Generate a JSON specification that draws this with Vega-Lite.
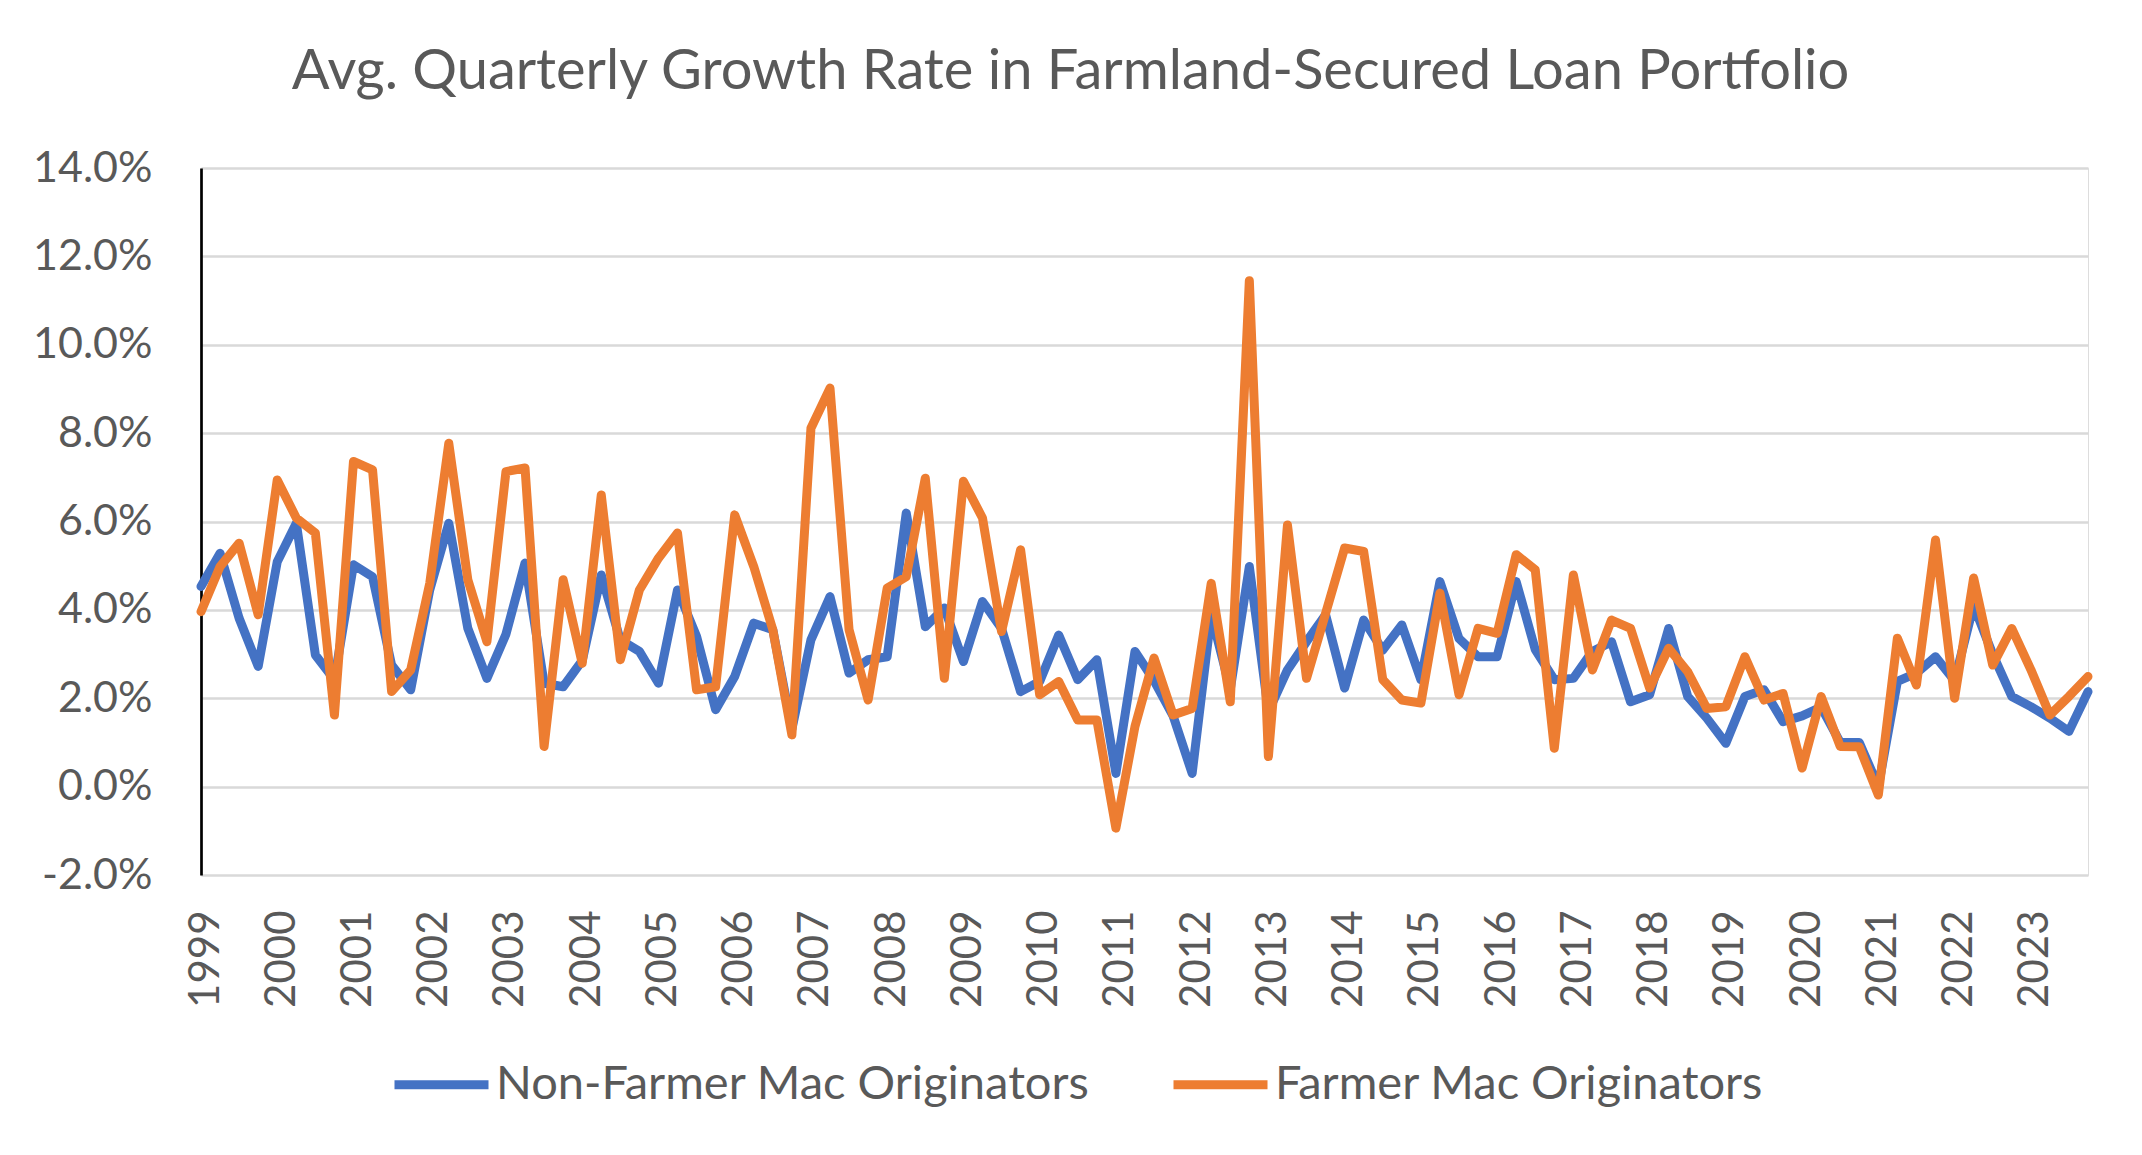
{
  "$schema": "https://vega.github.io/schema/vega-lite/v6.json",
  "width": 1887,
  "height": 707,
  "autosize": "none",
  "padding": {"left": 201, "top": 168, "right": 54, "bottom": 280},
  "background": "white",
  "title": {
    "text": "Avg. Quarterly Growth Rate in Farmland-Secured Loan Portfolio",
    "font": "Lato",
    "fontSize": 56,
    "fontWeight": "normal",
    "color": "#595959",
    "anchor": "middle",
    "dx": -74,
    "offset": 46
  },
  "data": {
    "values": [
      {"t": 1999.0, "nonfm": 4.53, "fm": 3.96},
      {"t": 1999.25, "nonfm": 5.28, "fm": 4.98},
      {"t": 1999.5, "nonfm": 3.81, "fm": 5.51},
      {"t": 1999.75, "nonfm": 2.72, "fm": 3.89},
      {"t": 2000.0, "nonfm": 5.09, "fm": 6.94},
      {"t": 2000.25, "nonfm": 5.96, "fm": 6.08},
      {"t": 2000.5, "nonfm": 2.98, "fm": 5.74},
      {"t": 2000.75, "nonfm": 2.42, "fm": 1.62},
      {"t": 2001.0, "nonfm": 5.02, "fm": 7.36},
      {"t": 2001.25, "nonfm": 4.75, "fm": 7.17},
      {"t": 2001.5, "nonfm": 2.75, "fm": 2.15},
      {"t": 2001.75, "nonfm": 2.19, "fm": 2.64},
      {"t": 2002.0, "nonfm": 4.45, "fm": 4.6},
      {"t": 2002.25, "nonfm": 5.96, "fm": 7.77},
      {"t": 2002.5, "nonfm": 3.58, "fm": 4.68},
      {"t": 2002.75, "nonfm": 2.45, "fm": 3.28},
      {"t": 2003.0, "nonfm": 3.45, "fm": 7.13},
      {"t": 2003.25, "nonfm": 5.06, "fm": 7.21},
      {"t": 2003.5, "nonfm": 2.34, "fm": 0.91},
      {"t": 2003.75, "nonfm": 2.26, "fm": 4.68},
      {"t": 2004.0, "nonfm": 2.85, "fm": 2.79},
      {"t": 2004.25, "nonfm": 4.79, "fm": 6.6},
      {"t": 2004.5, "nonfm": 3.32, "fm": 2.87},
      {"t": 2004.75, "nonfm": 3.06, "fm": 4.45},
      {"t": 2005.0, "nonfm": 2.34, "fm": 5.17},
      {"t": 2005.25, "nonfm": 4.45, "fm": 5.74},
      {"t": 2005.5, "nonfm": 3.4, "fm": 2.19},
      {"t": 2005.75, "nonfm": 1.74, "fm": 2.26},
      {"t": 2006.0, "nonfm": 2.49, "fm": 6.15},
      {"t": 2006.25, "nonfm": 3.7, "fm": 4.98},
      {"t": 2006.5, "nonfm": 3.55, "fm": 3.55},
      {"t": 2006.75, "nonfm": 1.3, "fm": 1.17},
      {"t": 2007.0, "nonfm": 3.32, "fm": 8.11},
      {"t": 2007.25, "nonfm": 4.3, "fm": 9.02},
      {"t": 2007.5, "nonfm": 2.57, "fm": 3.55},
      {"t": 2007.75, "nonfm": 2.87, "fm": 1.96},
      {"t": 2008.0, "nonfm": 2.94, "fm": 4.49},
      {"t": 2008.25, "nonfm": 6.19, "fm": 4.75},
      {"t": 2008.5, "nonfm": 3.62, "fm": 6.98},
      {"t": 2008.75, "nonfm": 4.04, "fm": 2.45},
      {"t": 2009.0, "nonfm": 2.83, "fm": 6.91},
      {"t": 2009.25, "nonfm": 4.19, "fm": 6.08},
      {"t": 2009.5, "nonfm": 3.58, "fm": 3.51},
      {"t": 2009.75, "nonfm": 2.15, "fm": 5.36},
      {"t": 2010.0, "nonfm": 2.38, "fm": 2.08},
      {"t": 2010.25, "nonfm": 3.43, "fm": 2.38},
      {"t": 2010.5, "nonfm": 2.42, "fm": 1.51},
      {"t": 2010.75, "nonfm": 2.87, "fm": 1.51},
      {"t": 2011.0, "nonfm": 0.3, "fm": -0.94},
      {"t": 2011.25, "nonfm": 3.06, "fm": 1.36},
      {"t": 2011.5, "nonfm": 2.4, "fm": 2.91},
      {"t": 2011.75, "nonfm": 1.6, "fm": 1.62},
      {"t": 2012.0, "nonfm": 0.3, "fm": 1.77},
      {"t": 2012.25, "nonfm": 3.9, "fm": 4.6},
      {"t": 2012.5, "nonfm": 2.2, "fm": 1.92},
      {"t": 2012.75, "nonfm": 4.98, "fm": 11.45},
      {"t": 2013.0, "nonfm": 1.7, "fm": 0.68},
      {"t": 2013.25, "nonfm": 2.64, "fm": 5.92},
      {"t": 2013.5, "nonfm": 3.28, "fm": 2.45},
      {"t": 2013.75, "nonfm": 3.89, "fm": 3.92},
      {"t": 2014.0, "nonfm": 2.23, "fm": 5.4},
      {"t": 2014.25, "nonfm": 3.77, "fm": 5.32},
      {"t": 2014.5, "nonfm": 3.09, "fm": 2.42},
      {"t": 2014.75, "nonfm": 3.66, "fm": 1.96},
      {"t": 2015.0, "nonfm": 2.42, "fm": 1.89},
      {"t": 2015.25, "nonfm": 4.64, "fm": 4.38},
      {"t": 2015.5, "nonfm": 3.35, "fm": 2.08},
      {"t": 2015.75, "nonfm": 2.94, "fm": 3.58},
      {"t": 2016.0, "nonfm": 2.94, "fm": 3.47},
      {"t": 2016.25, "nonfm": 4.64, "fm": 5.25},
      {"t": 2016.5, "nonfm": 3.1, "fm": 4.91},
      {"t": 2016.75, "nonfm": 2.42, "fm": 0.87},
      {"t": 2017.0, "nonfm": 2.45, "fm": 4.79},
      {"t": 2017.25, "nonfm": 3.06, "fm": 2.64},
      {"t": 2017.5, "nonfm": 3.28, "fm": 3.77},
      {"t": 2017.75, "nonfm": 1.92, "fm": 3.58},
      {"t": 2018.0, "nonfm": 2.08, "fm": 2.23},
      {"t": 2018.25, "nonfm": 3.58, "fm": 3.13},
      {"t": 2018.5, "nonfm": 2.04, "fm": 2.6},
      {"t": 2018.75, "nonfm": 1.55, "fm": 1.77},
      {"t": 2019.0, "nonfm": 0.98, "fm": 1.81},
      {"t": 2019.25, "nonfm": 2.04, "fm": 2.94},
      {"t": 2019.5, "nonfm": 2.19, "fm": 1.96},
      {"t": 2019.75, "nonfm": 1.47, "fm": 2.11},
      {"t": 2020.0, "nonfm": 1.6, "fm": 0.42},
      {"t": 2020.25, "nonfm": 1.8, "fm": 2.04},
      {"t": 2020.5, "nonfm": 1.0, "fm": 0.91},
      {"t": 2020.75, "nonfm": 1.0, "fm": 0.9},
      {"t": 2021.0, "nonfm": 0.0, "fm": -0.19},
      {"t": 2021.25, "nonfm": 2.38, "fm": 3.36},
      {"t": 2021.5, "nonfm": 2.57, "fm": 2.3},
      {"t": 2021.75, "nonfm": 2.94, "fm": 5.58},
      {"t": 2022.0, "nonfm": 2.4, "fm": 2.0},
      {"t": 2022.25, "nonfm": 4.1, "fm": 4.72},
      {"t": 2022.5, "nonfm": 3.0, "fm": 2.75},
      {"t": 2022.75, "nonfm": 2.04, "fm": 3.58},
      {"t": 2023.0, "nonfm": 1.81, "fm": 2.65},
      {"t": 2023.25, "nonfm": 1.55, "fm": 1.62},
      {"t": 2023.5, "nonfm": 1.25, "fm": 2.04},
      {"t": 2023.75, "nonfm": 2.15, "fm": 2.49}
    ]
  },
  "transform": [
    {"fold": ["nonfm", "fm"], "as": ["series", "rate"]}
  ],
  "mark": {
    "type": "line",
    "strokeWidth": 9,
    "strokeCap": "round",
    "strokeJoin": "round"
  },
  "encoding": {
    "x": {
      "field": "t",
      "type": "quantitative",
      "scale": {"domain": [1999, 2023.75], "nice": false, "zero": false},
      "axis": {
        "values": [1999, 2000, 2001, 2002, 2003, 2004, 2005, 2006, 2007, 2008, 2009, 2010, 2011, 2012, 2013, 2014, 2015, 2016, 2017, 2018, 2019, 2020, 2021, 2022, 2023],
        "format": "d",
        "title": null,
        "domain": false,
        "ticks": false,
        "grid": false,
        "labelAngle": 270,
        "labelAlign": "right",
        "labelBaseline": "middle",
        "labelPadding": 35,
        "labelOffset": 4,
        "labelFont": "Lato",
        "labelFontSize": 42,
        "labelColor": "#595959",
        "labelFlush": false,
        "labelOverlap": false
      }
    },
    "y": {
      "field": "rate",
      "type": "quantitative",
      "scale": {"domain": [-2, 14], "nice": false},
      "axis": {
        "values": [-2, 0, 2, 4, 6, 8, 10, 12, 14],
        "labelExpr": "(datum.value < 0 ? '-' : '') + format(abs(datum.value), '.1f') + '%'",
        "title": null,
        "ticks": false,
        "domain": true,
        "domainColor": "#000000",
        "domainWidth": 2.7,
        "grid": true,
        "gridColor": "#D9D9D9",
        "gridWidth": 2.7,
        "labelPadding": 49,
        "labelFont": "Lato",
        "labelFontSize": 43,
        "labelColor": "#595959"
      }
    },
    "color": {
      "field": "series",
      "type": "nominal",
      "scale": {"domain": ["nonfm", "fm"], "range": ["#4472C4", "#ED7D31"]},
      "legend": {
        "title": null,
        "orient": "none",
        "direction": "horizontal",
        "legendX": 189,
        "legendY": 865,
        "symbolType": "stroke",
        "symbolStrokeWidth": 9,
        "symbolSize": 8836,
        "labelFont": "Lato",
        "labelFontSize": 47,
        "labelColor": "#595959",
        "labelOffset": 3,
        "labelLimit": 1000,
        "columnPadding": 65,
        "labelExpr": "datum.label == 'nonfm' ? 'Non-Farmer Mac Originators' : 'Farmer Mac Originators'"
      }
    }
  }
}
